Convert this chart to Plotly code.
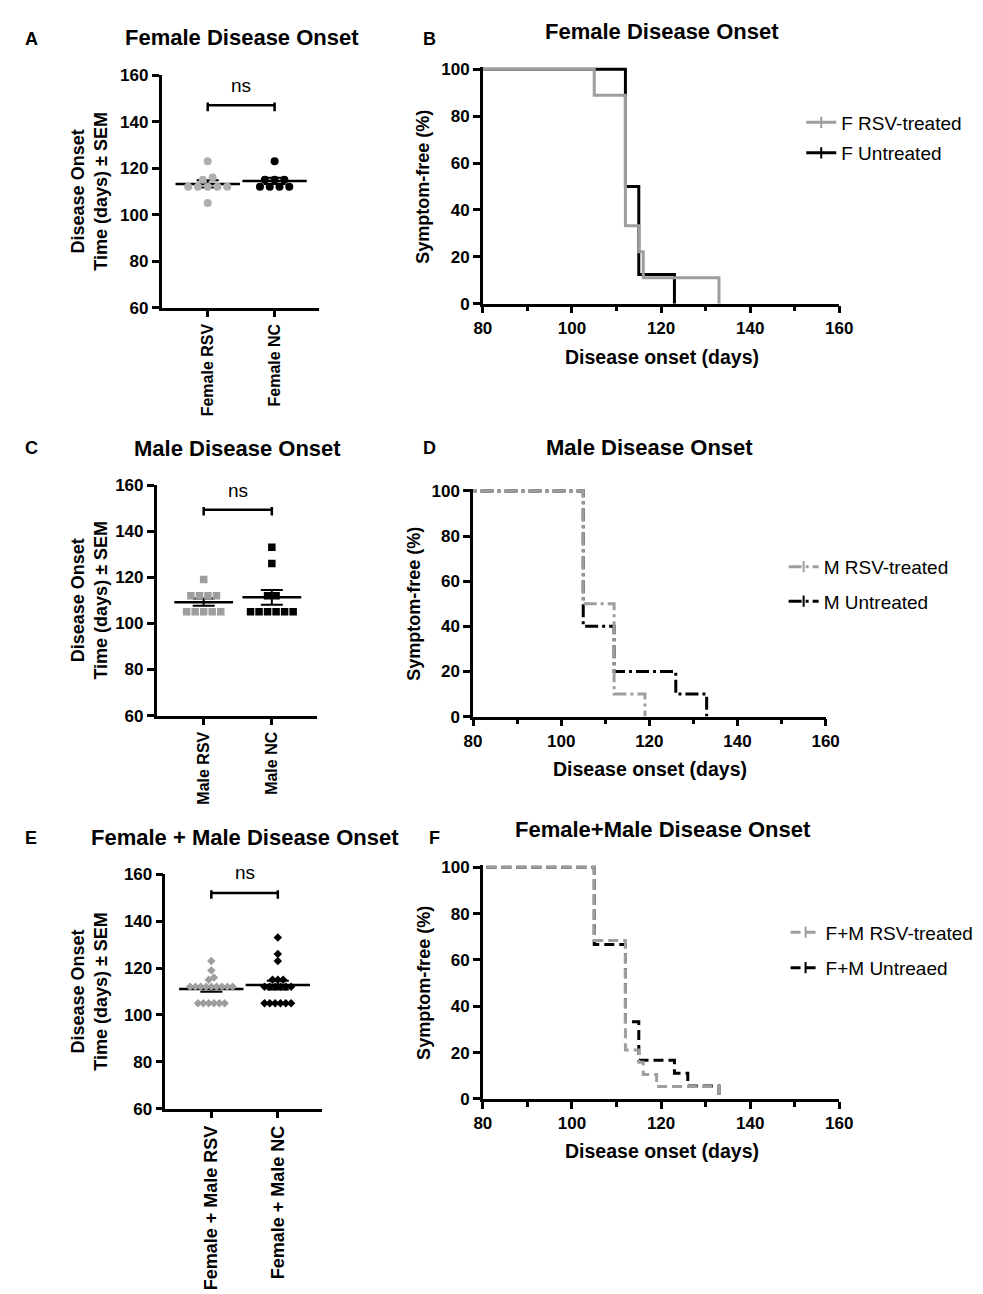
import numpy as np
import plotly.graph_objects as go

W, H = 983, 1294
FONT = 'Liberation Sans, Arial, sans-serif'
GRAY = 'rgb(158,158,158)'
DOT_GRAY = 'rgb(175,175,175)'

# --- scatter (onset day per animal) ---
female_rsv = [105, 112, 112, 112, 112, 112, 115, 116, 123]
female_nc = [112, 112, 112, 112, 115, 115, 115, 123]
male_rsv = [105, 105, 105, 105, 105, 112, 112, 112, 112, 119]
male_nc = [105, 105, 105, 105, 105, 105, 112, 112, 126, 133]
fm_rsv = [105, 105, 105, 105, 105, 105, 112, 112, 112, 112, 112, 112, 112, 112, 112,
          115, 116, 119, 123]
fm_nc = [105, 105, 105, 105, 105, 105, 112, 112, 112, 112, 112, 112, 115, 115, 115,
         123, 126, 133]

female_groups = ['Female RSV', 'Female NC']
male_groups = ['Male RSV', 'Male NC']
fm_groups = ['Female + Male RSV', 'Female + Male NC']

# --- survival curves (days, % symptom-free) ---
f_rsv_days = [0, 105, 112, 115, 116, 133]
f_rsv_pct = [100, 88.9, 33.3, 22.2, 11.1, 0]
f_unt_days = [0, 112, 115, 123]
f_unt_pct = [100, 50, 12.5, 0]
m_rsv_days = [0, 105, 112, 119]
m_rsv_pct = [100, 50, 10, 0]
m_unt_days = [0, 105, 112, 126, 133]
m_unt_pct = [100, 40, 20, 10, 0]
fm_rsv_days = [0, 105, 112, 115, 116, 119, 133]
fm_rsv_pct = [100, 68.4, 21.1, 15.8, 10.5, 5.3, 0]
fm_unt_days = [0, 105, 112, 115, 123, 126, 133]
fm_unt_pct = [100, 66.7, 33.3, 16.7, 11.1, 5.6, 0]


def xp(px):
    return px / W


def yp(py):
    return 1 - py / H


def note(text, x, y, size=18, bold=True, angle=0):
    fig.add_annotation(x=xp(x), y=yp(y), xref='paper', yref='paper', text=text, showarrow=False,
                       xanchor='center', yanchor='middle', textangle=angle,
                       font=dict(family=FONT, size=size, color='black',
                                 weight='bold' if bold else 'normal'))


def swarm(vals, spacing):
    # simple beeswarm: values closer than 2 days share a row, rows centred
    vals = sorted(vals)
    rows, cur = [], [vals[0]]
    for v in vals[1:]:
        if v - cur[-1] < 2:
            cur.append(v)
        else:
            rows.append(cur)
            cur = [v]
    rows.append(cur)
    xs, ys = [], []
    for r in rows:
        k = len(r)
        for i, v in enumerate(r):
            xs.append((i - (k - 1) / 2) * spacing)
            ys.append(v)
    return xs, ys


fig = go.Figure()

axis_common = dict(showline=True, linecolor='black', linewidth=2.5, ticks='outside', ticklen=7,
                   tickwidth=2.5, tickcolor='black', showgrid=False, zeroline=False,
                   tickfont=dict(family=FONT, size=17, color='black', weight='bold'))

# pixel boxes: (left, right, top, bottom)
swarm_boxes = [(148, 309, 59, 295), (143, 307, 475, 709), (152, 312, 870, 1108)]
surv_boxes = [(477, 842, 53, 291), (467, 828, 481, 710), (477, 842, 863, 1098)]

swarm_sets = [
    (female_groups, female_rsv, female_nc, 'circle', 8, 0.146, 46, 147, 155.5, 16),
    (male_groups, male_rsv, male_nc, 'square', 7.5, 0.125, 42, 149.3, 157.6, 16),
    (fm_groups, fm_rsv, fm_nc, 'diamond', 6.5, 0.08, 46, 152, 160.8, 18),
]

layout_axes = {}
for i, (box, sset) in enumerate(zip(swarm_boxes, swarm_sets)):
    n = 2 * i + 1
    xa, ya = ('x' if n == 1 else f'x{n}'), ('y' if n == 1 else f'y{n}')
    groups, a_vals, b_vals, sym, msize, spacing, mean_w, br_y, ns_y, cat_size = sset
    for ci, (vals, col) in enumerate([(a_vals, DOT_GRAY if sym == 'circle' else GRAY),
                                      (b_vals, 'black')]):
        m = np.mean(vals)
        sem = np.std(vals, ddof=1) / np.sqrt(len(vals))
        fig.add_trace(go.Scatter(
            x=[ci], y=[m], mode='markers', xaxis=xa, yaxis=ya, showlegend=False,
            marker=dict(symbol='line-ew', size=mean_w, line=dict(color='black', width=2.5)),
            error_y=dict(type='data', array=[sem], color='black', thickness=2, width=11)))
        offs, ys = swarm(vals, spacing)
        fig.add_trace(go.Scatter(
            x=[ci + o for o in offs], y=ys, mode='markers', xaxis=xa, yaxis=ya, showlegend=False,
            marker=dict(symbol=sym, size=msize, color=col, line=dict(width=0))))
    l, r, t, b = box
    layout_axes['xaxis' + ('' if n == 1 else str(n))] = dict(
        axis_common, domain=[xp(l), xp(r)], anchor=ya, range=[-0.69, 1.66],
        tickvals=[0, 1], ticktext=groups, tickangle=-90,
        tickfont=dict(family=FONT, size=cat_size, color='black', weight='bold'))
    layout_axes['yaxis' + ('' if n == 1 else str(n))] = dict(
        axis_common, domain=[yp(b), yp(t)], anchor=xa, range=[60, 160], dtick=20)
    # significance bracket
    fig.add_shape(type='line', x0=0, x1=1, y0=br_y, y1=br_y, xref=xa, yref=ya,
                  line=dict(color='black', width=2.5))
    for xx in [0, 1]:
        fig.add_shape(type='line', x0=xx, x1=xx, y0=br_y - 2.5, y1=br_y + 1.2, xref=xa, yref=ya,
                      line=dict(color='black', width=2.5))
    ns_px = t + (160 - ns_y) * (b - t) / 100
    fig.add_annotation(x=0.5, y=yp(ns_px), xref=xa, yref='paper', text='ns', showarrow=False,
                       xanchor='center', yanchor='middle',
                       font=dict(family=FONT, size=19, color='black'))
    note('Disease Onset<br>Time (days) ± SEM', 74, (t + b) / 2, angle=-90)

surv_sets = [
    ((f_rsv_days, f_rsv_pct), (f_unt_days, f_unt_pct), 'solid', 'F RSV-treated', 'F Untreated',
     (107, 138), 803),
    ((m_rsv_days, m_rsv_pct), (m_unt_days, m_unt_pct), '13px,4px,3px,4px', 'M RSV-treated',
     'M Untreated', (558, 593), 785),
    ((fm_rsv_days, fm_rsv_pct), (fm_unt_days, fm_unt_pct), '10px,5px', 'F+M RSV-treated',
     'F+M Untreaed', (929, 965), 787),
]

for i, (box, sset) in enumerate(zip(surv_boxes, surv_sets)):
    n = 2 * i + 2
    xa, ya = f'x{n}', f'y{n}'
    rsv, unt, dash, name_rsv, name_unt, leg_rows, leg_x = sset
    # untreated first so treated curve draws on top
    for (days, pct), col in [(unt, 'black'), (rsv, GRAY)]:
        fig.add_trace(go.Scatter(x=days, y=pct, mode='lines', line_shape='hv', xaxis=xa, yaxis=ya,
                                 showlegend=False, line=dict(color=col, width=3, dash=dash)))
    for k, (name, col) in enumerate([(name_rsv, GRAY), (name_unt, 'black')]):
        lg = f'legend{2 * i + k + 1}' if (2 * i + k) > 0 else 'legend'
        fig.add_trace(go.Scatter(x=[None], y=[None], mode='lines+markers', name=name, xaxis=xa,
                                 yaxis=ya, legend=lg,
                                 line=dict(color=col, width=3, dash=dash),
                                 marker=dict(symbol='line-ns', size=8,
                                             line=dict(color=col, width=2))))
        layout_axes[lg] = dict(x=xp(leg_x), y=yp(leg_rows[k]), xanchor='left', yanchor='middle',
                               bgcolor='rgba(0,0,0,0)',
                               font=dict(family=FONT, size=19, color='black'))
    l, r, t, b = box
    top_ext = t - (b - t) * 0.01
    layout_axes[f'xaxis{n}'] = dict(
        axis_common, domain=[xp(l), xp(r)], anchor=ya, range=[80, 160], dtick=20,
        minor=dict(dtick=10, ticks='outside', ticklen=5, tickwidth=2.5, tickcolor='black'))
    layout_axes[f'yaxis{n}'] = dict(
        axis_common, domain=[yp(b), yp(top_ext)], anchor=xa, range=[0, 101],
        tickvals=[0, 20, 40, 60, 80, 100])

# titles, axis titles and panel letters
titles = [('Female Disease Onset', 230, 21), ('Female Disease Onset', 660, 15),
          ('Male Disease Onset', 226, 438), ('Male Disease Onset', 648, 437),
          ('Female + Male Disease Onset', 233, 833), ('Female+Male Disease Onset', 661, 825)]
for text, x, y in titles:
    note(text, x, y, size=22)

letters = [('A', 15, 22), ('B', 422, 22), ('C', 15, 437), ('D', 422, 437),
           ('E', 14, 833), ('F', 427, 833)]
for text, x, y in letters:
    note(text, x, y, size=18)

for x, y in [(416, 172), (407, 595), (416, 980)]:
    note('Symptom-free (%)', x, y, angle=-90)
for x, y in [(660, 345), (648, 763), (660, 1151)]:
    note('Disease onset (days)', x, y, size=19.5)

fig.update_layout(width=W, height=H, margin=dict(l=0, r=0, t=0, b=0),
                  paper_bgcolor='white', plot_bgcolor='white', **layout_axes)

fig.write_html("out.html")
